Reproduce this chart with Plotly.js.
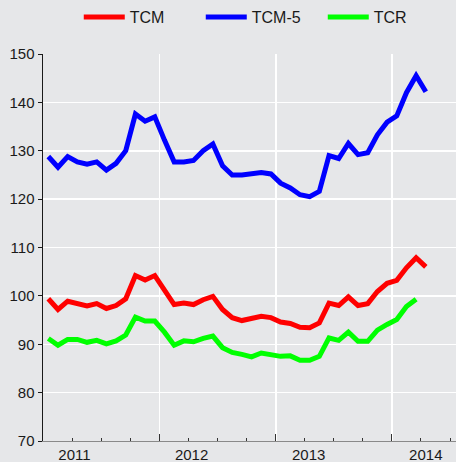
<!DOCTYPE html>
<html>
<head>
<meta charset="utf-8">
<script src="https://cdn.plot.ly/plotly-3.0.1.min.js"></script>
<style>html,body{margin:0;padding:0;background:#e6e7e9;}#chart{width:456px;height:462px;}</style>
</head>
<body>
<div id="chart"></div>
<script>
// Monthly observations, Jan 2011 - Apr 2014 (index 0..39)
var seriesNames = ["TCM", "TCM-5", "TCR"];
var tcm = [99.4, 97.2, 98.9, 98.5, 97.9, 98.4, 97.4, 98.0, 99.4, 104.2,
           103.3, 104.2, 101.1, 98.2, 98.5, 98.2, 99.2, 99.9, 97.2, 95.5,
           94.9, 95.3, 95.8, 95.5, 94.6, 94.3, 93.5, 93.4, 94.4, 98.5,
           98.0, 99.8, 98.0, 98.4, 100.9, 102.6, 103.2, 105.8, 107.9, 106.0];
var tcm5 = [128.8, 126.6, 128.8, 127.7, 127.2, 127.7, 126.0, 127.4, 130.0, 137.6,
            136.1, 137.0, 132.2, 127.7, 127.7, 128.0, 130.0, 131.4, 126.9, 125.0,
            125.0, 125.3, 125.5, 125.2, 123.3, 122.3, 120.9, 120.5, 121.6, 129.0,
            128.4, 131.5, 129.2, 129.6, 133.3, 135.9, 137.2, 142.0, 145.5, 142.2];
var tcr = [91.2, 89.8, 91.0, 91.0, 90.4, 90.8, 90.1, 90.7, 91.9, 95.6,
           94.8, 94.8, 92.5, 89.8, 90.7, 90.5, 91.2, 91.7, 89.3, 88.3,
           87.9, 87.4, 88.2, 87.9, 87.5, 87.6, 86.7, 86.7, 87.5, 91.3,
           90.8, 92.5, 90.6, 90.6, 92.9, 94.1, 95.1, 97.8, 99.3];
var yearLabels = ["2011", "2012", "2013", "2014"];
var yTicks = [70, 80, 90, 100, 110, 120, 130, 140, 150];

function idx(arr) { return arr.map(function (_, i) { return i; }); }

var colors = ["#ff0000", "#0000ff", "#00ff00"];
var data = [tcm, tcm5, tcr].map(function (s, k) {
  return {
    x: idx(s), y: s, type: "scatter", mode: "lines", name: seriesNames[k],
    line: {color: colors[k], width: 5}, hoverinfo: "skip"
  };
});
data.push({x: [], y: [], xaxis: "x2", yaxis: "y", showlegend: false, hoverinfo: "skip"});

var xr = [-0.55, 42.12];
var labelPos = [2.7, 14.8, 26.9, 39.0];
var majorPos = [11.5, 23.5, 35.5];
var minorPos = [];
for (var q = 2.5; q < 42; q += 3) minorPos.push(q);

var fnt = {family: "Liberation Sans, Arial, sans-serif", size: 15, color: "#1a1a1a"};

var layout = {
  width: 456, height: 462,
  margin: {l: 43, r: 0, t: 53, b: 21, pad: 0},
  paper_bgcolor: "#e6e7e9", plot_bgcolor: "#e6e7e9",
  font: fnt,
  showlegend: true,
  legend: {orientation: "h", x: 0.0866, xanchor: "left", y: 1.095, yanchor: "middle",
           font: {family: "Liberation Sans, Arial, sans-serif", size: 16, color: "#1a1a1a"},
           bgcolor: "rgba(0,0,0,0)", entrywidth: 66, itemwidth: 41},
  xaxis: {
    range: xr, tickmode: "array", tickvals: labelPos, ticktext: yearLabels,
    ticks: "", showgrid: false, zeroline: false, showline: true, linecolor: "#8a8a8a", linewidth: 1,
    tickfont: fnt, fixedrange: true,
    minor: {tickmode: "array", tickvals: minorPos, ticks: "inside", ticklen: 3, tickwidth: 1, tickcolor: "#333", showgrid: false}
  },
  xaxis2: {
    overlaying: "x", side: "bottom", range: xr, tickmode: "array", tickvals: majorPos,
    ticks: "inside", ticklen: 7, tickwidth: 1, tickcolor: "#333", showticklabels: false,
    showgrid: true, gridcolor: "#ffffff", gridwidth: 1.5, zeroline: false, showline: false, fixedrange: true
  },
  yaxis: {
    range: [70, 150], tickmode: "array", tickvals: yTicks, ticks: "outside", ticklen: 4, tickwidth: 1,
    tickcolor: "#1a1a1a", showline: true, linecolor: "#1a1a1a", linewidth: 1.5,
    showgrid: true, gridcolor: "#ffffff", gridwidth: 1.5, zeroline: false, tickfont: fnt, fixedrange: true
  }
};

Plotly.newPlot("chart", data, layout, {staticPlot: true, displayModeBar: false});
</script>
</body>
</html>
